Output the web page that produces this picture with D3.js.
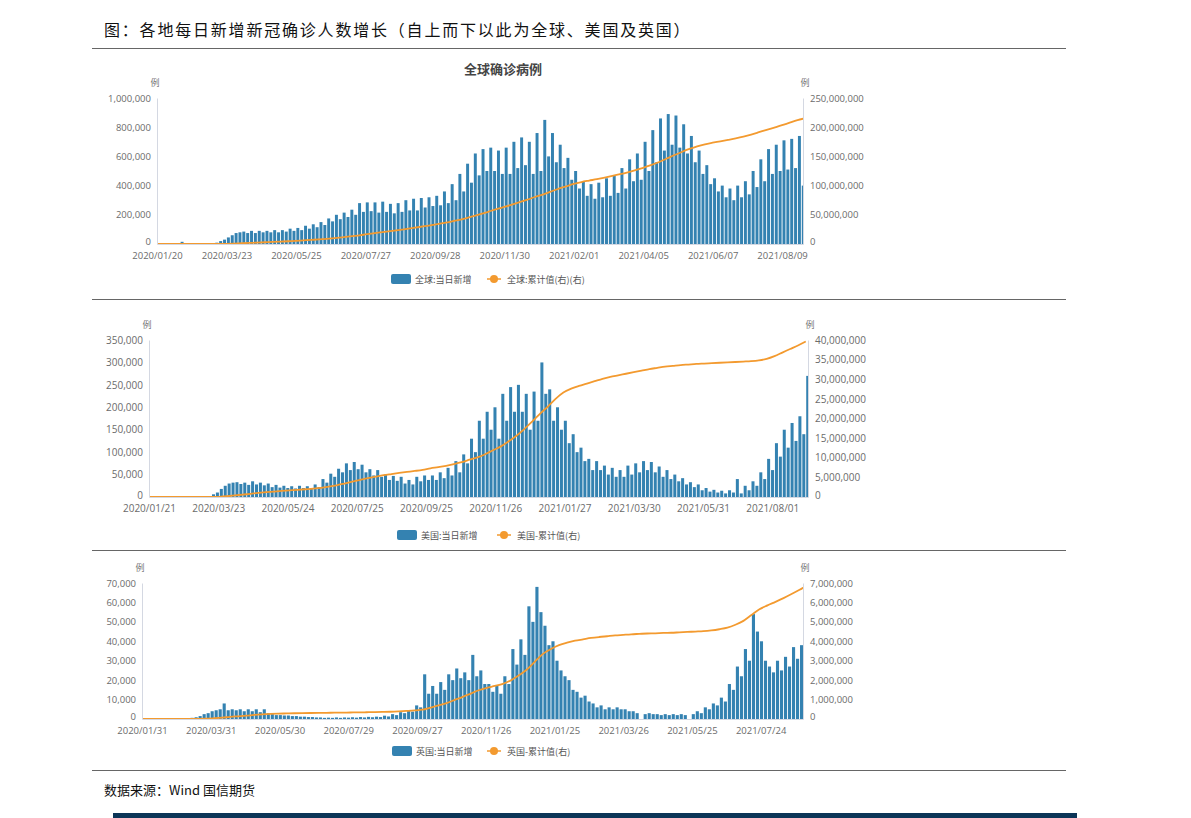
<!DOCTYPE html>
<html>
<head>
<meta charset="utf-8">
<script src="https://cdn.jsdelivr.net/npm/d3@7"></script>
<style>
  body { margin: 0; background: #fff; }
  svg text { font-family: "Noto Sans CJK SC", "Open Sans", sans-serif; }
</style>
</head>
<body>
<div id="chart"></div>
<script>
// ---- data (thousands for daily, millions for cumulative) ----
// daily values: two samples per week (weekly high / low), cumulative: one per week

var globalStart = "2020-01-20";
var globalTicks = ["2020-01-20", "2020-03-23", "2020-05-25", "2020-07-27", "2020-09-28", "2020-11-30", "2021-02-01", "2021-04-05", "2021-06-07", "2021-08-09"];
var globalDaily = [
  1,1, 2,3, 4,3, 15,2, 2,1, 2,2, 3,4, 6,9, 20,30, 45,60,
  75,80, 85,75, 90,75, 90,80, 90,80, 95,80, 95,85, 105,90, 110,95, 125,105,
  135,115, 150,130, 175,155, 200,170, 215,185, 235,200, 280,220, 285,225, 285,215, 290,220,
  275,210, 280,220, 300,230, 310,230, 315,250, 320,260, 330,265, 360,280, 410,300, 480,360,
  550,420, 620,470, 650,500, 660,500, 640,480, 660,480, 700,520, 730,540, 700,480, 760,500,
  850,600, 760,560, 680,520, 590,440, 500,380, 430,330, 410,310, 420,320, 450,330, 470,350,
  520,380, 580,430, 620,440, 700,500, 780,560, 860,640, 890,680, 880,660, 820,620, 740,560,
  640,480, 540,410, 450,360, 400,320, 380,300, 400,320, 430,340, 500,390, 580,430, 650,480,
  680,500, 710,510, 720,520, 740,400
];
var globalCum = [
  0, 0.003, 0.02, 0.04, 0.07, 0.08, 0.09, 0.11, 0.17, 0.38,
  0.75, 1.3, 1.85, 2.4, 3.0, 3.5, 4.1, 4.7, 5.4, 6.2,
  7.0, 7.9, 8.9, 10.1, 11.5, 12.9, 14.5, 16.3, 18.1, 19.9,
  21.7, 23.4, 25.2, 27.1, 29.1, 31.2, 33.3, 35.6, 38.0, 40.8,
  44.0, 47.6, 51.4, 55.6, 59.7, 63.4, 67.5, 71.7, 76.0, 80.5,
  84.5, 89.6, 94.5, 98.5, 102.9, 106.1, 108.6, 111.0, 113.7, 116.5,
  119.5, 122.8, 126.5, 130.5, 135.0, 140.0, 145.9, 151.9, 157.6, 162.8,
  167.3, 170.8, 173.4, 175.8, 178.3, 180.9, 183.9, 187.4, 191.4, 195.5,
  199.4, 203.4, 207.8, 212.0, 215.5
];

var usStart = "2020-01-21";
var usTicks = ["2020-01-21", "2020-03-23", "2020-05-24", "2020-07-25", "2020-09-25", "2020-11-26", "2021-01-27", "2021-03-30", "2021-05-31", "2021-08-01"];
var usDaily = [
  0,0, 0,0, 0,0, 0,0, 0,0, 0,0, 0.1,0.3, 1,2, 6,10, 18,25,
  30,32, 33,29, 32,27, 35,28, 32,26, 30,22, 27,21, 25,20, 24,19, 25,20,
  24,19, 28,22, 40,32, 52,45, 63,55, 75,60, 78,62, 72,55, 62,48, 60,45,
  50,38, 47,36, 45,30, 38,28, 45,35, 48,38, 48,38, 55,42, 65,48, 80,55,
  95,75, 130,100, 170,130, 190,150, 200,130, 230,170, 245,190, 250,190, 230,150, 235,170,
  300,230, 240,170, 200,150, 170,120, 140,100, 110,80, 85,60, 80,60, 70,50, 65,45,
  60,45, 70,50, 75,55, 80,60, 78,55, 68,45, 60,40, 50,35, 42,28, 33,22,
  28,15, 20,12, 16,10, 14,8, 15,10, 40,8, 25,15, 35,25, 55,40, 85,60,
  120,90, 150,110, 165,125, 180,140, 270,190, 75
];
var usCum = [
  0, 0, 0, 0, 0, 0, 0, 0.001, 0.006, 0.05,
  0.19, 0.4, 0.61, 0.82, 1.03, 1.22, 1.39, 1.55, 1.69, 1.83,
  1.98, 2.13, 2.33, 2.63, 2.98, 3.43, 3.9, 4.38, 4.82, 5.2,
  5.56, 5.85, 6.13, 6.39, 6.64, 6.92, 7.3, 7.6, 7.95, 8.4,
  8.9, 9.5, 10.1, 10.9, 11.9, 12.9, 14.2, 15.6, 17.3, 19.2,
  21.2, 23.0, 25.0, 26.6, 27.6, 28.3, 28.9, 29.5, 30.1, 30.6,
  31.0, 31.4, 31.8, 32.2, 32.6, 32.9, 33.2, 33.4, 33.6, 33.75,
  33.9, 34.0, 34.1, 34.2, 34.3, 34.4, 34.5, 34.6, 34.8, 35.2,
  35.9, 36.8, 37.7, 38.6, 39.6
];

var ukStart = "2020-01-31";
var ukTicks = ["2020-01-31", "2020-03-31", "2020-05-30", "2020-07-29", "2020-09-27", "2020-11-26", "2021-01-25", "2021-03-26", "2021-05-25", "2021-07-24"];
var ukDaily = [
  0,0, 0,0, 0,0, 0,0, 0.05,0.1, 0.1,0.3, 0.6,0.9, 1.5,2.5, 3,4, 4.5,5,
  8,4.5, 5,4.5, 5,4, 5,4, 5,3.5, 5,3, 2.5,2, 2,1.8, 1.8,1.5, 1.5,1.2,
  1.2,1, 1,0.8, 0.8,0.6, 0.7,0.6, 0.8,0.6, 0.8,0.7, 0.9,0.7, 1,0.8, 1.1,0.9, 1.2,1,
  1.7,1.3, 2.5,2, 3.5,3, 4.5,3.8, 7,6, 23,13, 17,13, 19,15, 23,20, 26,21,
  24,20, 33,22, 25,18, 18,14, 17,13, 22,18, 36,28, 41,33, 58,50, 68,55,
  48,38, 40,30, 25,22, 20,15, 14,11, 12,9, 8,6, 7,5, 6,5, 6,5,
  5,4, 4,3, 0,2.5, 3,2.5, 2.5,2, 2.5,2, 2.5,2, 2.5,2, 0,2.5, 4,3,
  6,5, 8,7, 11,9, 18,15, 27,22, 36,30, 54,45, 40,30, 27,24, 30,25,
  32,27, 37,31, 38,33
];
var ukCum = [
  0, 0, 0, 0, 0, 0.0002, 0.001, 0.005, 0.015, 0.04,
  0.07, 0.11, 0.14, 0.17, 0.21, 0.24, 0.26, 0.275, 0.285, 0.295,
  0.303, 0.31, 0.316, 0.32, 0.325, 0.33, 0.335, 0.34, 0.347, 0.354,
  0.362, 0.372, 0.39, 0.413, 0.44, 0.48, 0.59, 0.7, 0.82, 0.98,
  1.14, 1.31, 1.48, 1.6, 1.7, 1.81, 1.99, 2.25, 2.55, 2.95,
  3.35, 3.6, 3.8, 3.93, 4.03, 4.1, 4.17, 4.22, 4.26, 4.3,
  4.33, 4.36, 4.38, 4.4, 4.41, 4.43, 4.44, 4.46, 4.48, 4.5,
  4.52, 4.56, 4.62, 4.7, 4.85, 5.05, 5.35, 5.65, 5.85, 6.03,
  6.22, 6.43, 6.65, 6.88
];

var W = 1191, H = 818;
var barColor = "#3482b1";
var lineColor = "#f39a2f";
var parse = d3.timeParse("%Y-%m-%d");
var fmt = d3.timeFormat("%Y/%m/%d");

var svg = d3.select("#chart").append("svg")
  .attr("width", W).attr("height", H);

// page header
svg.append("text")
  .attr("x", 104).attr("y", 36)
  .attr("font-size", 16).attr("letter-spacing", 1.8)
  .attr("fill", "#111")
  .text("图：各地每日新增新冠确诊人数增长（自上而下以此为全球、美国及英国）");

[48, 299, 550, 770].forEach(function (y) {
  svg.append("line")
    .attr("x1", 92).attr("x2", 1066).attr("y1", y + 0.5).attr("y2", y + 0.5)
    .attr("stroke", "#666").attr("stroke-width", 1);
});

svg.append("text")
  .attr("x", 104).attr("y", 795)
  .attr("font-size", 13).attr("fill", "#111")
  .text("数据来源：Wind 国信期货");

svg.append("rect")
  .attr("x", 113).attr("y", 813).attr("width", 964).attr("height", 5)
  .attr("fill", "#0c3557");

function drawChart(c, idx) {
  var start = parse(c.start);
  var x = d3.scaleLinear().domain([0, c.days]).range([c.left, c.right]);
  var yL = d3.scaleLinear().domain([0, c.maxL]).range([c.bottom, c.top]);
  var yR = d3.scaleLinear().domain([0, c.maxR]).range([c.bottom, c.top]);
  var g = svg.append("g");

  var clipId = "clip" + idx;
  g.append("clipPath").attr("id", clipId).append("rect")
    .attr("x", c.left).attr("y", c.top - 10)
    .attr("width", c.right - c.left).attr("height", c.bottom - c.top + 10);

  // daily bars
  var step = 3.5;
  var bw = x(step) - x(0) - 0.9;
  g.append("g").attr("clip-path", "url(#" + clipId + ")")
    .selectAll("rect").data(c.daily).enter().append("rect")
    .attr("x", function (d, i) { return x(i * step) + 0.45; })
    .attr("y", function (d) { return yL(d * 1000); })
    .attr("width", bw)
    .attr("height", function (d) { return c.bottom - yL(d * 1000); })
    .attr("fill", barColor);

  // cumulative line
  var line = d3.line()
    .x(function (d, i) { return x(i * 7); })
    .y(function (d) { return yR(d * 1e6); })
    .curve(d3.curveMonotoneX);
  g.append("path").datum(c.cum)
    .attr("clip-path", "url(#" + clipId + ")")
    .attr("d", line)
    .attr("fill", "none").attr("stroke", lineColor).attr("stroke-width", 1.8);

  // axes
  var ticks = c.ticks.map(function (t) { return d3.timeDay.count(start, parse(t)); });
  var ax = g.append("g").attr("transform", "translate(0," + c.bottom + ")")
    .call(d3.axisBottom(x).tickValues(ticks).tickSize(0).tickPadding(8)
      .tickFormat(function (d) { return fmt(d3.timeDay.offset(start, d)); }));
  var axL = g.append("g").attr("transform", "translate(" + c.left + ",0)")
    .call(d3.axisLeft(yL).ticks(c.nTicks).tickSize(0).tickPadding(6).tickFormat(d3.format(",")));
  var axR = g.append("g").attr("transform", "translate(" + c.right + ",0)")
    .call(d3.axisRight(yR).ticks(c.nTicks).tickSize(0).tickPadding(7).tickFormat(d3.format(",")));
  [ax, axL, axR].forEach(function (a) {
    a.select(".domain").attr("stroke", "#d4d8e2");
    a.selectAll("text").attr("fill", "#6b6b6b").attr("font-size", c.fontSize)
      .style("font-family", "'Open Sans', sans-serif");
  });
  // nudge the zero labels up so they clear the date labels
  axL.selectAll(".tick text").filter(function (d) { return d === 0; }).attr("dy", "0.1em");
  axR.selectAll(".tick text").filter(function (d) { return d === 0; }).attr("dy", "0.1em");

  // unit labels
  g.append("text").attr("x", c.left - 2).attr("y", c.top - 12)
    .attr("text-anchor", "middle").attr("font-size", 9).attr("fill", "#777").text("例");
  g.append("text").attr("x", c.right + 2).attr("y", c.top - 12)
    .attr("text-anchor", "middle").attr("font-size", 9).attr("fill", "#777").text("例");

  if (c.title) {
    g.append("text").attr("x", c.titleX).attr("y", c.top - 24)
      .attr("text-anchor", "middle").attr("font-size", 13).attr("font-weight", "bold")
      .attr("fill", "#444").text(c.title);
  }

  // legend
  var lg = g.append("g").attr("transform", "translate(" + c.legendX + "," + c.legendY + ")");
  lg.append("rect").attr("x", 0).attr("y", -5).attr("width", 20).attr("height", 10)
    .attr("rx", 2).attr("fill", barColor);
  lg.append("text").attr("x", 24).attr("y", 4).attr("font-size", 9).attr("fill", "#555").text(c.legend[0]);
  var lx = c.legendGap;
  lg.append("line").attr("x1", lx).attr("x2", lx + 14).attr("y1", 0).attr("y2", 0)
    .attr("stroke", lineColor).attr("stroke-width", 1.5);
  lg.append("circle").attr("cx", lx + 7).attr("cy", 0).attr("r", 4).attr("fill", lineColor);
  lg.append("text").attr("x", lx + 20).attr("y", 4).attr("font-size", 9).attr("fill", "#555").text(c.legend[1]);
}

var charts = [
  { start: globalStart, ticks: globalTicks, daily: globalDaily, cum: globalCum, days: 586,
    left: 157, right: 803, top: 98, bottom: 244, maxL: 1000000, maxR: 250000000, nTicks: 5,
    fontSize: 9.5, title: "全球确诊病例", titleX: 503,
    legendX: 391, legendY: 279, legendGap: 96, legend: ["全球:当日新增", "全球:累计值(右)(右)"] },
  { start: usStart, ticks: usTicks, daily: usDaily, cum: usCum, days: 590,
    left: 149, right: 808, top: 340, bottom: 497, maxL: 350000, maxR: 40000000, nTicks: 7,
    fontSize: 10,
    legendX: 397, legendY: 535, legendGap: 100, legend: ["美国:当日新增", "美国-累计值(右)"] },
  { start: ukStart, ticks: ukTicks, daily: ukDaily, cum: ukCum, days: 577,
    left: 142, right: 803, top: 583, bottom: 719, maxL: 70000, maxR: 7000000, nTicks: 7,
    fontSize: 9.5,
    legendX: 392, legendY: 751, legendGap: 95, legend: ["英国:当日新增", "英国-累计值(右)"] }
];

charts.forEach(drawChart);
</script>
</body>
</html>
